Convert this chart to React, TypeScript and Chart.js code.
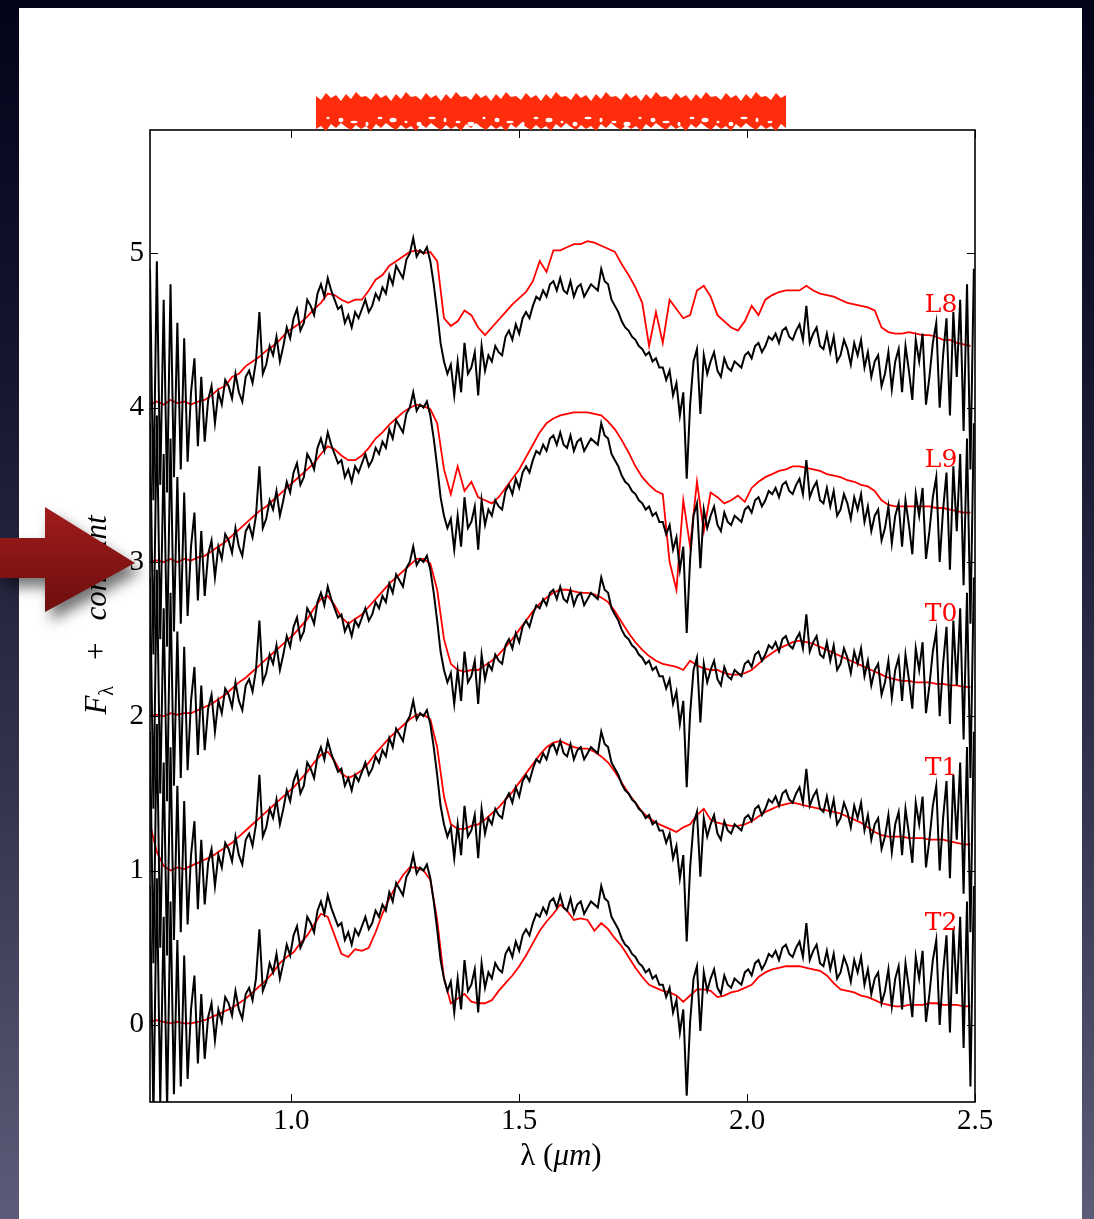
import React, { useEffect, useRef } from "react";
import { Chart, registerables } from "chart.js";

Chart.register(...registerables);

// ---- axes ----
const X_MIN = 0.69;
const X_MAX = 2.5;
const Y_MIN = -0.5;
const Y_MAX = 5.8;
const X_TICKS = [1.0, 1.5, 2.0, 2.5];
const Y_TICKS = [0, 1, 2, 3, 4, 5];

// ---- observed spectrum (black), sampled every 0.0075 um from 0.69 um ----
const BLACK_START = 0.69;
const BLACK_STEP = 0.0075;
const BLACK_FLUX = [
  0.90, -0.60, 0.95, -0.50, 0.70, -0.55, 0.80, -0.45, 0.55, -0.40,
  0.45, -0.35, 0.10, 0.32, -0.25, 0.20, -0.22, 0.05, 0.14, -0.10,
  0.10, 0.02, 0.18, 0.14, 0.06, 0.22, 0.10, 0.04, 0.20, 0.24,
  0.16, 0.30, 0.62, 0.22, 0.28, 0.40, 0.34, 0.46, 0.30, 0.40,
  0.52, 0.45, 0.58, 0.64, 0.50, 0.55, 0.70, 0.66, 0.60, 0.74,
  0.80, 0.72, 0.84, 0.76, 0.70, 0.64, 0.66, 0.55, 0.60, 0.52,
  0.62, 0.58, 0.64, 0.70, 0.62, 0.66, 0.74, 0.70, 0.78, 0.74,
  0.86, 0.80, 0.92, 0.88, 0.84, 0.96, 1.00, 1.10, 0.98, 1.02,
  1.00, 1.04, 0.95, 0.80, 0.62, 0.42, 0.30, 0.22, 0.28, 0.08,
  0.30, 0.10, 0.42, 0.22, 0.26, 0.36, 0.08, 0.40, 0.24, 0.34,
  0.30, 0.40, 0.36, 0.34, 0.46, 0.50, 0.44, 0.54, 0.48, 0.58,
  0.62, 0.58, 0.66, 0.72, 0.70, 0.76, 0.72, 0.80, 0.82, 0.76,
  0.84, 0.76, 0.74, 0.82, 0.72, 0.78, 0.80, 0.72, 0.76, 0.80,
  0.78, 0.76, 0.90, 0.82, 0.80, 0.70, 0.66, 0.62, 0.56, 0.52,
  0.50, 0.46, 0.44, 0.40, 0.38, 0.34, 0.36, 0.30, 0.32, 0.26,
  0.26, 0.18, 0.24, 0.08, 0.16, -0.05, 0.10, -0.46, 0.02, 0.30,
  0.38, -0.04, 0.34, 0.22, 0.30, 0.36, 0.24, 0.20, 0.32, 0.26,
  0.24, 0.30, 0.28, 0.26, 0.34, 0.36, 0.32, 0.40, 0.42, 0.36,
  0.40, 0.46, 0.44, 0.48, 0.42, 0.50, 0.52, 0.46, 0.44, 0.50,
  0.54, 0.44, 0.66, 0.42, 0.48, 0.52, 0.40, 0.38, 0.48, 0.36,
  0.46, 0.30, 0.34, 0.44, 0.38, 0.28, 0.42, 0.34, 0.44, 0.26,
  0.36, 0.20, 0.30, 0.34, 0.14, 0.22, 0.36, 0.12, 0.30, 0.38,
  0.10, 0.40, 0.24, 0.05, 0.44, 0.30, 0.48, 0.02, 0.20, 0.42,
  0.55, 0.00, 0.34, 0.58, -0.05, 0.62, 0.20, 0.70, -0.15, 0.80,
  -0.40, 0.90,
];

// ---- templates (red), sampled every 0.015 um from 0.69 um ----
const RED_START = 0.69;
const RED_STEP = 0.015;
const RED_L8 = [
  0.02, 0.04, 0.02, 0.05, 0.03, 0.04, 0.02, 0.04, 0.05, 0.08,
  0.12, 0.14, 0.20, 0.22, 0.27, 0.30, 0.33, 0.37, 0.40, 0.44,
  0.49, 0.52, 0.55, 0.59, 0.64, 0.68, 0.74, 0.73, 0.70, 0.68,
  0.70, 0.70, 0.76, 0.83, 0.86, 0.92, 0.95, 0.98, 1.01, 1.02,
  1.00, 1.01, 0.95, 0.58, 0.53, 0.56, 0.63, 0.60, 0.52, 0.47,
  0.52, 0.57, 0.62, 0.67, 0.71, 0.75, 0.82, 0.95, 0.88, 1.02,
  1.02, 1.04, 1.06, 1.06, 1.08, 1.07, 1.05, 1.03, 1.01, 0.93,
  0.86, 0.78, 0.68, 0.40, 0.62, 0.42, 0.70, 0.64, 0.58, 0.60,
  0.76, 0.79, 0.72, 0.60, 0.56, 0.52, 0.50, 0.56, 0.66, 0.60,
  0.70, 0.73, 0.75, 0.76, 0.76, 0.76, 0.79, 0.76, 0.74, 0.73,
  0.72, 0.70, 0.68, 0.67, 0.66, 0.65, 0.63, 0.52, 0.49, 0.48,
  0.48, 0.49, 0.48, 0.47, 0.47, 0.46, 0.44, 0.44, 0.42, 0.41,
  0.40,
];
const RED_L9 = [
  0.00, 0.01, 0.00, 0.02, 0.00, 0.02, 0.01, 0.03, 0.04, 0.07,
  0.10, 0.13, 0.17, 0.21, 0.25, 0.29, 0.33, 0.36, 0.40, 0.44,
  0.48, 0.52, 0.56, 0.60, 0.64, 0.70, 0.75, 0.73, 0.69, 0.66,
  0.66, 0.69, 0.74, 0.80, 0.84, 0.89, 0.93, 0.97, 1.00, 1.02,
  1.01, 0.99, 0.90, 0.60, 0.44, 0.62, 0.46, 0.52, 0.42, 0.40,
  0.38, 0.42, 0.48, 0.54, 0.60, 0.68, 0.76, 0.84, 0.90, 0.93,
  0.95, 0.96, 0.97, 0.97, 0.97, 0.96, 0.95, 0.91, 0.86, 0.79,
  0.71, 0.62, 0.55, 0.50, 0.46, 0.44, 0.00, -0.18, 0.40, 0.10,
  0.52, 0.20, 0.45, 0.42, 0.38, 0.40, 0.43, 0.39, 0.48, 0.52,
  0.55, 0.57, 0.59, 0.60, 0.62, 0.62, 0.61, 0.60, 0.59, 0.57,
  0.56, 0.55, 0.53, 0.52, 0.50, 0.49, 0.46, 0.40, 0.37, 0.36,
  0.36, 0.36, 0.36, 0.36, 0.36, 0.35, 0.35, 0.34, 0.33, 0.32,
  0.32,
];
const RED_T0 = [
  0.00, 0.01, 0.00, 0.02, 0.01, 0.02, 0.02, 0.04, 0.06, 0.08,
  0.11, 0.14, 0.18, 0.22, 0.25, 0.29, 0.33, 0.37, 0.41, 0.45,
  0.49, 0.53, 0.58, 0.63, 0.70, 0.76, 0.78, 0.72, 0.64, 0.60,
  0.63, 0.66, 0.71, 0.76, 0.81, 0.86, 0.90, 0.94, 0.98, 1.02,
  1.02, 0.99, 0.82, 0.50, 0.34, 0.30, 0.29, 0.30, 0.30, 0.33,
  0.36, 0.40, 0.45, 0.50, 0.56, 0.62, 0.68, 0.73, 0.77, 0.80,
  0.82, 0.82, 0.81, 0.80, 0.80, 0.79, 0.77, 0.74, 0.68, 0.61,
  0.54, 0.48, 0.43, 0.39, 0.36, 0.34, 0.33, 0.32, 0.30, 0.36,
  0.33, 0.31, 0.30, 0.30, 0.28, 0.27, 0.27, 0.28, 0.30, 0.34,
  0.38, 0.41, 0.44, 0.46, 0.48, 0.49, 0.48, 0.47, 0.45, 0.43,
  0.41, 0.39, 0.37, 0.35, 0.33, 0.31, 0.29, 0.27, 0.25, 0.24,
  0.23, 0.23, 0.22, 0.22, 0.22, 0.21, 0.21, 0.20, 0.20, 0.19,
  0.19,
];
const RED_T1 = [
  0.30, 0.12, 0.03, 0.00, 0.02, 0.01, 0.03, 0.05, 0.07, 0.09,
  0.12, 0.15, 0.18, 0.22, 0.26, 0.30, 0.34, 0.38, 0.42, 0.46,
  0.50, 0.54, 0.59, 0.64, 0.70, 0.75, 0.77, 0.71, 0.63, 0.60,
  0.62, 0.65, 0.70, 0.76, 0.81, 0.86, 0.90, 0.94, 0.98, 1.01,
  1.01, 0.98, 0.80, 0.48, 0.30, 0.27, 0.27, 0.29, 0.30, 0.33,
  0.37, 0.41, 0.46, 0.51, 0.57, 0.63, 0.69, 0.75, 0.80, 0.83,
  0.84, 0.82, 0.80, 0.79, 0.79, 0.77, 0.74, 0.70, 0.64, 0.57,
  0.50, 0.44, 0.38, 0.34, 0.31, 0.29, 0.27, 0.25, 0.28, 0.30,
  0.36, 0.40, 0.33, 0.31, 0.30, 0.29, 0.29, 0.30, 0.32, 0.35,
  0.38, 0.40, 0.42, 0.43, 0.44, 0.43, 0.42, 0.41, 0.40, 0.39,
  0.38, 0.37, 0.35, 0.33, 0.31, 0.28, 0.25, 0.23, 0.22, 0.22,
  0.22, 0.21, 0.21, 0.21, 0.20, 0.20, 0.20, 0.19, 0.18, 0.17,
  0.17,
];
const RED_T2 = [
  0.02, 0.03, 0.02, 0.01, 0.02, 0.01, 0.01, 0.02, 0.03, 0.05,
  0.07, 0.09, 0.11, 0.14, 0.17, 0.21, 0.25, 0.29, 0.34, 0.40,
  0.44, 0.47, 0.53, 0.58, 0.65, 0.72, 0.70, 0.58, 0.46, 0.44,
  0.49, 0.48, 0.50, 0.60, 0.72, 0.82, 0.90, 0.97, 1.02, 1.02,
  1.00, 0.94, 0.68, 0.30, 0.14, 0.17, 0.20, 0.15, 0.14, 0.14,
  0.16, 0.22, 0.27, 0.32, 0.38, 0.45, 0.53, 0.61, 0.67, 0.72,
  0.78, 0.74, 0.68, 0.69, 0.68, 0.61, 0.66, 0.62, 0.56, 0.51,
  0.44, 0.37, 0.31, 0.26, 0.24, 0.22, 0.21, 0.19, 0.15, 0.19,
  0.23, 0.23, 0.22, 0.18, 0.19, 0.21, 0.22, 0.24, 0.26, 0.31,
  0.34, 0.36, 0.37, 0.38, 0.38, 0.38, 0.37, 0.36, 0.35, 0.32,
  0.27, 0.23, 0.22, 0.21, 0.19, 0.18, 0.16, 0.14, 0.13, 0.12,
  0.12, 0.13, 0.13, 0.13, 0.14, 0.14, 0.13, 0.13, 0.13, 0.12,
  0.12,
];

const TEMPLATE_NAMES = ["L8", "L9", "T0", "T1", "T2"];
const TEMPLATE_FLUX = [RED_L8, RED_L9, RED_T0, RED_T1, RED_T2];
const OFFSETS = [4, 3, 2, 1, 0];
const LABEL_LAMBDA = 2.39;
const LABEL_RISE = 0.66;

const SERIF_TICK = "'Liberation Serif', 'DejaVu Serif', serif";
const SERIF_LABEL = "'DejaVu Serif', serif";

function toPoints(start: number, step: number, values: number[], offset: number) {
  return values.map((v, i) => ({ x: start + i * step, y: v + offset }));
}

const framePlugin = {
  id: "frameTicks",
  afterDatasetsDraw(chart: any) {
    const { ctx, chartArea, scales } = chart;
    const { left, right, top, bottom } = chartArea;
    ctx.save();
    ctx.strokeStyle = "#000";
    ctx.lineWidth = 1;
    const len = 8;
    ctx.beginPath();
    X_TICKS.forEach((v) => {
      const px = Math.round(scales.x.getPixelForValue(v)) + 0.5;
      ctx.moveTo(px, bottom);
      ctx.lineTo(px, bottom - len);
      ctx.moveTo(px, top);
      ctx.lineTo(px, top + len);
    });
    Y_TICKS.forEach((v) => {
      const py = Math.round(scales.y.getPixelForValue(v)) + 0.5;
      ctx.moveTo(left, py);
      ctx.lineTo(left + len, py);
      ctx.moveTo(right, py);
      ctx.lineTo(right - len, py);
    });
    ctx.stroke();
    ctx.lineWidth = 1.6;
    ctx.strokeRect(left, top, right - left, bottom - top);

    ctx.fillStyle = "#ff0000";
    ctx.font = `25px ${SERIF_LABEL}`;
    ctx.textAlign = "left";
    ctx.textBaseline = "middle";
    TEMPLATE_NAMES.forEach((name, k) => {
      const px = scales.x.getPixelForValue(LABEL_LAMBDA);
      const py = scales.y.getPixelForValue(OFFSETS[k] + LABEL_RISE);
      ctx.fillText(name, px, py);
    });
    ctx.restore();
  },
};

function ChartCanvas() {
  const ref = useRef<HTMLCanvasElement | null>(null);
  useEffect(() => {
    if (!ref.current) return;
    const blackSets = OFFSETS.map((off, k) => ({
      label: `observed + ${off} (${TEMPLATE_NAMES[k]})`,
      data: toPoints(BLACK_START, BLACK_STEP, BLACK_FLUX, off),
      borderColor: "#000000",
      borderWidth: 2,
      pointRadius: 0,
      tension: 0,
      order: 0,
    }));
    const redSets = OFFSETS.map((off, k) => ({
      label: TEMPLATE_NAMES[k],
      data: toPoints(RED_START, RED_STEP, TEMPLATE_FLUX[k], off),
      borderColor: "#ff0000",
      borderWidth: 1.8,
      pointRadius: 0,
      tension: 0,
      order: 1,
    }));
    const chart = new Chart(ref.current, {
      type: "line",
      data: { datasets: [...blackSets, ...redSets] as any },
      options: {
        responsive: false,
        animation: false,
        events: [],
        layout: { padding: { left: 0, top: 130, right: 119, bottom: 0 } },
        plugins: { legend: { display: false }, tooltip: { enabled: false }, title: { display: false } },
        scales: {
          x: {
            type: "linear",
            min: X_MIN,
            max: X_MAX,
            afterBuildTicks: (s: any) => {
              s.ticks = X_TICKS.map((value) => ({ value }));
            },
            afterFit: (s: any) => {
              s.height = 117;
            },
            grid: { display: false, drawTicks: false },
            border: { display: false },
            ticks: {
              autoSkip: false,
              maxRotation: 0,
              padding: 2,
              color: "#000",
              font: { family: SERIF_TICK, size: 29 },
              callback: (v: any) => Number(v).toFixed(1),
            },
          },
          y: {
            type: "linear",
            min: Y_MIN,
            max: Y_MAX,
            afterBuildTicks: (s: any) => {
              s.ticks = Y_TICKS.map((value) => ({ value }));
            },
            afterFit: (s: any) => {
              s.width = 150;
            },
            grid: { display: false, drawTicks: false },
            border: { display: false },
            ticks: {
              autoSkip: false,
              padding: 6,
              color: "#000",
              font: { family: SERIF_TICK, size: 29 },
              callback: (v: any) => String(v),
            },
          },
        },
      },
      plugins: [framePlugin],
    });
    return () => chart.destroy();
  }, []);
  return (
    <canvas
      ref={ref}
      width={1094}
      height={1219}
      style={{ position: "absolute", left: 0, top: 0, width: 1094, height: 1219 }}
    />
  );
}

function Redaction() {
  const topY = [96, 100, 93, 98, 95, 101, 94, 99, 92, 97];
  const botY = [128, 124, 131, 126, 129, 125, 130, 127, 123];
  const pts: string[] = [];
  let i = 0;
  for (let x = 316; x <= 786; x += 5, i++) pts.push(`${x},${topY[i % topY.length]}`);
  i = 0;
  for (let x = 786; x >= 316; x -= 5, i++) pts.push(`${x},${botY[i % botY.length]}`);
  const specks: any[] = [];
  let j = 0;
  for (let x = 328; x < 780; x += 13, j++) {
    specks.push(
      <ellipse key={x} cx={x} cy={118 + (j % 4) * 2} rx={1.5 + (j % 3)} ry={1.2 + (j % 2)} fill="#ffffff" />
    );
  }
  return (
    <svg width={1094} height={1219} style={{ position: "absolute", left: 0, top: 0, pointerEvents: "none" }}>
      <polygon points={pts.join(" ")} fill="#ff2d0c" />
      {specks}
    </svg>
  );
}

function Arrow() {
  return (
    <svg
      width={1094}
      height={1219}
      style={{ position: "absolute", left: 0, top: 0, pointerEvents: "none", filter: "drop-shadow(6px 9px 7px rgba(0,0,0,0.55))" }}
    >
      <defs>
        <linearGradient id="arrowFill" x1="0" y1="0" x2="0" y2="1">
          <stop offset="0%" stopColor="#a01c1c" />
          <stop offset="100%" stopColor="#6e0e0e" />
        </linearGradient>
      </defs>
      <polygon points="0,538 45,538 45,507 135,563 45,612 45,578 0,578" fill="url(#arrowFill)" />
    </svg>
  );
}

export default function App() {
  useEffect(() => {
    document.body.style.margin = "0";
  }, []);
  return (
    <div
      style={{
        position: "absolute",
        left: 0,
        top: 0,
        width: 1094,
        height: 1219,
        overflow: "hidden",
        background: "linear-gradient(180deg, #03031a 0%, #15152e 30%, #34344f 65%, #5c5c78 100%)",
      }}
    >
      <div style={{ position: "absolute", left: 19, top: 8, width: 1063, height: 1240, background: "#ffffff" }} />
      <ChartCanvas />
      <div
        style={{
          position: "absolute",
          left: 411,
          top: 1137,
          width: 300,
          textAlign: "center",
          fontFamily: SERIF_TICK,
          fontSize: 31,
          color: "#000",
          whiteSpace: "nowrap",
        }}
      >
        λ (<i>μm</i>)
      </div>
      <div
        style={{
          position: "absolute",
          left: 98,
          top: 615,
          transform: "translate(-50%, -50%) rotate(-90deg)",
          fontFamily: SERIF_TICK,
          fontSize: 31,
          color: "#000",
          whiteSpace: "nowrap",
          lineHeight: 1,
        }}
      >
        <i>F</i>
        <sub style={{ fontSize: 20 }}>λ</sub>
        <span style={{ marginLeft: 26, marginRight: 22 }}>+</span>
        <i>constant</i>
      </div>
      <Redaction />
      <Arrow />
    </div>
  );
}
